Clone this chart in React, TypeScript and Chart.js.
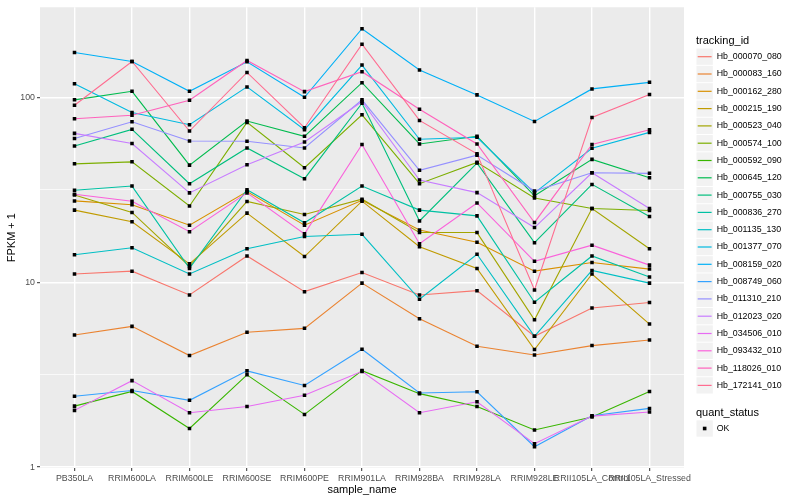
import React, { useEffect, useRef } from "react";
import { Chart, registerables } from "chart.js";

Chart.register(...registerables);

const FONT = "'Liberation Sans', Arial, Helvetica, sans-serif";

const samples = [
  "PB350LA", "RRIM600LA", "RRIM600LE", "RRIM600SE", "RRIM600PE", "RRIM901LA",
  "RRIM928BA", "RRIM928LA", "RRIM928LE", "RRII105LA_Control", "RRII105LA_Stressed",
];

const trackingIds = [
  "Hb_000070_080", "Hb_000083_160", "Hb_000162_280", "Hb_000215_190", "Hb_000523_040",
  "Hb_000574_100", "Hb_000592_090", "Hb_000645_120", "Hb_000755_030", "Hb_000836_270",
  "Hb_001135_130", "Hb_001377_070", "Hb_008159_020", "Hb_008749_060", "Hb_011310_210",
  "Hb_012023_020", "Hb_034506_010", "Hb_093432_010", "Hb_118026_010", "Hb_172141_010",
];

// FPKM + 1 values per sample, one array per tracking_id
const hb_000070_080 = [11.1, 11.5, 8.55, 13.9, 8.91, 11.3, 8.55, 9.02, 5.11, 7.27, 7.78];
const hb_000083_160 = [5.19, 5.78, 4.02, 5.37, 5.64, 9.91, 6.35, 4.51, 4.05, 4.55, 4.88];
const hb_000162_280 = [27.6, 26.3, 20.4, 31.0, 20.4, 27.8, 19.2, 16.5, 11.5, 12.8, 11.8];
const hb_000215_190 = [24.6, 21.3, 12.6, 23.7, 13.8, 27.5, 15.6, 11.9, 4.33, 11.1, 5.95];
const hb_000523_040 = [29.7, 23.9, 12.2, 27.4, 23.3, 28.2, 18.6, 18.6, 6.27, 25.1, 15.2];
const hb_000574_100 = [43.8, 44.9, 25.9, 73.4, 41.7, 80.7, 34.2, 44.6, 28.6, 25.1, 24.5];
const hb_000592_090 = [2.14, 2.57, 1.62, 3.16, 1.93, 3.33, 2.5, 2.13, 1.59, 1.87, 2.57];
const hb_000645_120 = [97.2, 108.1, 43.1, 74.6, 61.7, 120.4, 56.1, 61.7, 29.4, 46.3, 36.8];
const hb_000755_030 = [54.7, 67.3, 34.2, 53.4, 36.4, 93.2, 21.5, 44.2, 16.4, 33.9, 22.7];
const hb_000836_270 = [31.5, 33.2, 11.9, 31.7, 21.0, 33.2, 24.6, 22.9, 7.81, 13.9, 10.7];
const hb_001135_130 = [14.1, 15.4, 11.1, 15.2, 17.7, 18.2, 8.1, 14.2, 5.11, 11.6, 9.91];
const hb_001377_070 = [118.9, 83.1, 71.3, 114.2, 67.0, 149.9, 59.5, 61.0, 30.5, 53.2, 64.8];
const hb_008159_020 = [175.2, 156.7, 108.1, 156.1, 100.4, 235.9, 140.9, 103.4, 74.3, 111.4, 120.9];
const hb_008749_060 = [2.42, 2.6, 2.3, 3.32, 2.77, 4.35, 2.52, 2.56, 1.29, 1.9, 2.08];
const hb_011310_210 = [60.0, 74.0, 58.2, 58.0, 53.4, 97.2, 40.4, 48.8, 31.2, 39.2, 38.9];
const hb_012023_020 = [64.0, 56.4, 30.5, 43.3, 57.5, 95.2, 35.8, 30.6, 19.8, 39.2, 25.1];
const hb_034506_010 = [2.03, 2.94, 1.97, 2.13, 2.45, 3.3, 1.97, 2.26, 1.34, 1.89, 1.99];
const hb_093432_010 = [30.0, 27.5, 18.8, 30.5, 18.3, 55.7, 16.2, 26.9, 13.0, 15.9, 12.4];
const hb_118026_010 = [76.8, 80.3, 96.7, 158.7, 107.7, 138.0, 86.5, 56.1, 21.1, 55.7, 67.0];
const hb_172141_010 = [90.9, 156.7, 65.9, 136.8, 68.7, 194.4, 75.2, 49.6, 9.09, 78.1, 103.8];

const seriesValues = [
  hb_000070_080, hb_000083_160, hb_000162_280, hb_000215_190, hb_000523_040,
  hb_000574_100, hb_000592_090, hb_000645_120, hb_000755_030, hb_000836_270,
  hb_001135_130, hb_001377_070, hb_008159_020, hb_008749_060, hb_011310_210,
  hb_012023_020, hb_034506_010, hb_093432_010, hb_118026_010, hb_172141_010,
];

const yTickValues = [1, 3.1623, 10, 31.623, 100];
const yTickLabels = ["1", "", "10", "", "100"];

const quantStatus = ["OK"];

const seriesColors = [
  "#F8766D", "#EA8331", "#D89000", "#C09B00", "#A3A500", "#7CAE00", "#39B600",
  "#00BB4E", "#00BF7D", "#00C1A3", "#00BFC4", "#00BAE0", "#00B0F6", "#35A2FF",
  "#9590FF", "#C77CFF", "#E76BF3", "#FA62DB", "#FF62BC", "#FF6C90",
];

const isMajorY = (v: number) => {
  const l = Math.log10(v);
  return Math.abs(l - Math.round(l)) < 1e-4;
};

const panelBg = {
  id: "panelBg",
  beforeDraw(chart: any) {
    const { ctx, chartArea: a } = chart;
    ctx.save();
    ctx.fillStyle = "#FFFFFF";
    ctx.fillRect(0, 0, chart.width, chart.height);
    ctx.fillStyle = "#EBEBEB";
    ctx.fillRect(a.left, a.top, a.right - a.left, a.bottom - a.top);
    ctx.restore();
  },
};

const ggLegend = {
  id: "ggLegend",
  afterDraw(chart: any) {
    const ctx = chart.ctx as CanvasRenderingContext2D;
    const x0 = 696;
    const keyH = 17.3;
    ctx.save();
    ctx.textAlign = "left";
    ctx.textBaseline = "middle";
    ctx.fillStyle = "#000000";
    ctx.font = `11px ${FONT}`;
    ctx.fillText("tracking_id", x0, 41);
    trackingIds.forEach((id, i) => {
      const cy = 56.7 + i * keyH;
      ctx.fillStyle = "#F2F2F2";
      ctx.fillRect(x0 + 0.5, cy - keyH / 2 + 0.5, keyH - 1, keyH - 1);
      ctx.strokeStyle = seriesColors[i];
      ctx.lineWidth = 1.2;
      ctx.beginPath();
      ctx.moveTo(x0 + 1.7, cy);
      ctx.lineTo(x0 + 15.6, cy);
      ctx.stroke();
      ctx.fillStyle = "#000000";
      ctx.font = `8.8px ${FONT}`;
      ctx.fillText(id, 716.7, cy);
    });
    ctx.font = `11px ${FONT}`;
    ctx.fillText("quant_status", x0, 412.5);
    quantStatus.forEach((s, i) => {
      const cy = 428.5 + i * keyH;
      ctx.fillStyle = "#F2F2F2";
      ctx.fillRect(x0 + 0.5, cy - keyH / 2 + 0.5, keyH - 1, keyH - 1);
      ctx.fillStyle = "#000000";
      ctx.fillRect(x0 + keyH / 2 - 1.8, cy - 1.8, 3.6, 3.6);
      ctx.font = `8.8px ${FONT}`;
      ctx.fillText(s, 716.7, cy);
    });
    ctx.restore();
  },
};

export default function App() {
  const ref = useRef<HTMLCanvasElement>(null);

  useEffect(() => {
    if (!ref.current) return;
    Chart.defaults.font.family = FONT;

    const lineSets = seriesValues.map((vals, i) => ({
      label: trackingIds[i],
      data: vals.map((v, j) => ({ x: j, y: v })),
      borderColor: seriesColors[i],
      backgroundColor: seriesColors[i],
      borderWidth: 1.1,
      pointRadius: 0,
      fill: false,
      tension: 0,
      order: 100 - i,
    }));

    const pointSet = {
      label: "quant_status: OK",
      data: seriesValues.flatMap((vals) => vals.map((v, j) => ({ x: j, y: v }))),
      showLine: false,
      pointStyle: "rect",
      pointRadius: 2.5,
      pointBackgroundColor: "#000000",
      pointBorderWidth: 0,
      borderColor: "#000000",
      backgroundColor: "#000000",
      order: 0,
    };

    const chart = new Chart(ref.current, {
      type: "line",
      data: { datasets: [...lineSets, pointSet] as any },
      options: {
        responsive: false,
        animation: false,
        events: [],
        layout: { padding: { left: 0, right: 116, top: 5, bottom: 0 } },
        plugins: {
          legend: { display: false },
          tooltip: { enabled: false },
        },
        scales: {
          x: {
            type: "linear",
            min: -0.6,
            max: 10.6,
            afterBuildTicks: (s: any) => {
              s.ticks = samples.map((_, i) => ({ value: i }));
            },
            afterFit: (s: any) => {
              s.height = 32;
            },
            ticks: {
              autoSkip: false,
              maxRotation: 0,
              minRotation: 0,
              padding: 2,
              color: "#4D4D4D",
              font: { size: 8.8, family: FONT },
              callback: (v: any) => samples[Math.round(Number(v))] ?? "",
            },
            grid: {
              color: "#FFFFFF",
              lineWidth: 1.4,
              drawTicks: true,
              tickLength: 3,
              tickColor: "#333333",
              tickWidth: 1,
            },
            border: { display: false },
            title: {
              display: true,
              text: "sample_name",
              color: "#000000",
              font: { size: 11, family: FONT },
              padding: { top: 0, bottom: 3.4 },
            },
          },
          y: {
            type: "logarithmic",
            min: 0.99,
            max: 308,
            afterBuildTicks: (s: any) => {
              s.ticks = yTickValues.map((v) => ({ value: v, major: isMajorY(v) }));
            },
            afterFit: (s: any) => {
              s.width = 40;
            },
            ticks: {
              autoSkip: false,
              padding: 2,
              color: "#4D4D4D",
              font: { size: 8.8, family: FONT },
              callback: (v: any, idx: number) => yTickLabels[idx] ?? "",
            },
            grid: {
              color: "#FFFFFF",
              lineWidth: (ctx: any) => (ctx.tick && isMajorY(ctx.tick.value) ? 1.4 : 0.7),
              drawTicks: true,
              tickLength: 3,
              tickColor: (ctx: any) =>
                ctx.tick && isMajorY(ctx.tick.value) ? "#333333" : "rgba(0,0,0,0)",
              tickWidth: 1,
            },
            border: { display: false },
            title: {
              display: true,
              text: "FPKM + 1",
              color: "#000000",
              font: { size: 11, family: FONT },
              padding: { top: 5.4, bottom: 0 },
            },
          },
        },
      } as any,
      plugins: [panelBg, ggLegend],
    });

    return () => chart.destroy();
  }, []);

  return (
    <div style={{ position: "fixed", left: 0, top: 0, width: 800, height: 500, background: "#FFFFFF" }}>
      <canvas ref={ref} width={800} height={500} style={{ display: "block", width: 800, height: 500 }} />
    </div>
  );
}
